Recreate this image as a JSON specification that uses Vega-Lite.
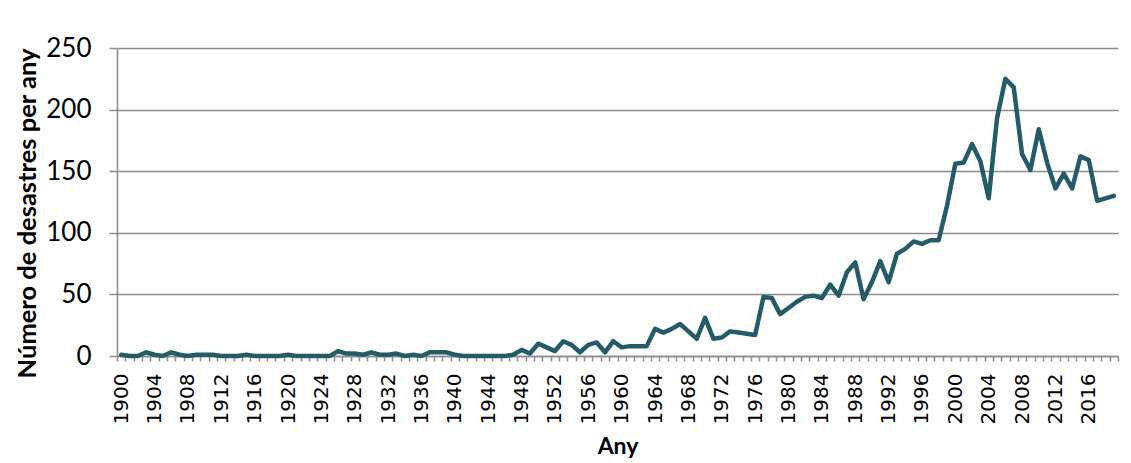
{
  "$schema": "https://vega.github.io/schema/vega-lite/v6.json",
  "width": 1001,
  "height": 308,
  "autosize": "none",
  "padding": {"left": 117, "top": 48, "right": 13, "bottom": 107},
  "background": "white",
  "config": {"view": {"stroke": null}},
  "data": {
    "values": [
      {"year": 1900, "n": 1}, {"year": 1901, "n": 0}, {"year": 1902, "n": 0}, {"year": 1903, "n": 3},
      {"year": 1904, "n": 1}, {"year": 1905, "n": 0}, {"year": 1906, "n": 3}, {"year": 1907, "n": 1},
      {"year": 1908, "n": 0}, {"year": 1909, "n": 1}, {"year": 1910, "n": 1}, {"year": 1911, "n": 1},
      {"year": 1912, "n": 0}, {"year": 1913, "n": 0}, {"year": 1914, "n": 0}, {"year": 1915, "n": 1},
      {"year": 1916, "n": 0}, {"year": 1917, "n": 0}, {"year": 1918, "n": 0}, {"year": 1919, "n": 0},
      {"year": 1920, "n": 1}, {"year": 1921, "n": 0}, {"year": 1922, "n": 0}, {"year": 1923, "n": 0},
      {"year": 1924, "n": 0}, {"year": 1925, "n": 0}, {"year": 1926, "n": 4}, {"year": 1927, "n": 2},
      {"year": 1928, "n": 2}, {"year": 1929, "n": 1}, {"year": 1930, "n": 3}, {"year": 1931, "n": 1},
      {"year": 1932, "n": 1}, {"year": 1933, "n": 2}, {"year": 1934, "n": 0}, {"year": 1935, "n": 1},
      {"year": 1936, "n": 0}, {"year": 1937, "n": 3}, {"year": 1938, "n": 3}, {"year": 1939, "n": 3},
      {"year": 1940, "n": 1}, {"year": 1941, "n": 0}, {"year": 1942, "n": 0}, {"year": 1943, "n": 0},
      {"year": 1944, "n": 0}, {"year": 1945, "n": 0}, {"year": 1946, "n": 0}, {"year": 1947, "n": 1},
      {"year": 1948, "n": 5}, {"year": 1949, "n": 2}, {"year": 1950, "n": 10}, {"year": 1951, "n": 7},
      {"year": 1952, "n": 4}, {"year": 1953, "n": 12}, {"year": 1954, "n": 9}, {"year": 1955, "n": 3},
      {"year": 1956, "n": 9}, {"year": 1957, "n": 11}, {"year": 1958, "n": 3}, {"year": 1959, "n": 12},
      {"year": 1960, "n": 7}, {"year": 1961, "n": 8}, {"year": 1962, "n": 8}, {"year": 1963, "n": 8},
      {"year": 1964, "n": 22}, {"year": 1965, "n": 19}, {"year": 1966, "n": 22}, {"year": 1967, "n": 26},
      {"year": 1968, "n": 20}, {"year": 1969, "n": 14}, {"year": 1970, "n": 31}, {"year": 1971, "n": 14},
      {"year": 1972, "n": 15}, {"year": 1973, "n": 20}, {"year": 1974, "n": 19}, {"year": 1975, "n": 18},
      {"year": 1976, "n": 17}, {"year": 1977, "n": 48}, {"year": 1978, "n": 47}, {"year": 1979, "n": 34},
      {"year": 1980, "n": 39}, {"year": 1981, "n": 44}, {"year": 1982, "n": 48}, {"year": 1983, "n": 49},
      {"year": 1984, "n": 47}, {"year": 1985, "n": 58}, {"year": 1986, "n": 49}, {"year": 1987, "n": 68},
      {"year": 1988, "n": 76}, {"year": 1989, "n": 46}, {"year": 1990, "n": 60}, {"year": 1991, "n": 77},
      {"year": 1992, "n": 60}, {"year": 1993, "n": 83}, {"year": 1994, "n": 87}, {"year": 1995, "n": 93},
      {"year": 1996, "n": 91}, {"year": 1997, "n": 94}, {"year": 1998, "n": 94}, {"year": 1999, "n": 122},
      {"year": 2000, "n": 156}, {"year": 2001, "n": 157}, {"year": 2002, "n": 172}, {"year": 2003, "n": 158},
      {"year": 2004, "n": 128}, {"year": 2005, "n": 193}, {"year": 2006, "n": 225}, {"year": 2007, "n": 218},
      {"year": 2008, "n": 164}, {"year": 2009, "n": 151}, {"year": 2010, "n": 184}, {"year": 2011, "n": 157},
      {"year": 2012, "n": 136}, {"year": 2013, "n": 148}, {"year": 2014, "n": 136}, {"year": 2015, "n": 162},
      {"year": 2016, "n": 159}, {"year": 2017, "n": 126}, {"year": 2018, "n": 128}, {"year": 2019, "n": 130}
    ]
  },
  "mark": {"type": "line", "color": "#235b68", "strokeWidth": 4.5, "strokeJoin": "round", "strokeCap": "round"},
  "encoding": {
    "x": {
      "field": "year",
      "type": "ordinal",
      "bandPosition": 0.5,
      "scale": {"type": "band", "paddingInner": 0, "paddingOuter": 0},
      "title": "Any",
      "axis": {
        "tickBand": "extent",
        "labelExpr": "datum.value % 4 == 0 ? datum.value : ''",
        "labelOverlap": false,
        "labelAngle": 270,
        "labelAlign": "right",
        "labelBaseline": "middle",
        "labelFont": "DejaVu Sans",
        "labelFontSize": 20,
        "labelColor": "#000000",
        "labelPadding": 12,
        "domainColor": "#8c8c8c",
        "domainWidth": 1.5,
        "tickColor": "#8c8c8c",
        "tickWidth": 1.5,
        "tickSize": 5,
        "grid": false,
        "titleFont": "Lato",
        "titleFontWeight": "bold",
        "titleFontSize": 23,
        "titleColor": "#000000",
        "titlePadding": 12
      }
    },
    "y": {
      "field": "n",
      "type": "quantitative",
      "scale": {"domain": [0, 250], "nice": false},
      "title": "Número de desastres per any",
      "axis": {
        "values": [0, 50, 100, 150, 200, 250],
        "grid": true,
        "gridColor": "#8c8c8c",
        "gridWidth": 1.5,
        "domainColor": "#8c8c8c",
        "domainWidth": 1.5,
        "tickColor": "#8c8c8c",
        "tickWidth": 1.5,
        "tickSize": 8,
        "labelFont": "Lato",
        "labelFontSize": 26,
        "labelColor": "#000000",
        "labelPadding": 18,
        "titleFont": "Lato",
        "titleFontWeight": "bold",
        "titleFontSize": 25.5,
        "titleColor": "#000000",
        "titlePadding": 5,
        "titleY": 165
      }
    }
  }
}
